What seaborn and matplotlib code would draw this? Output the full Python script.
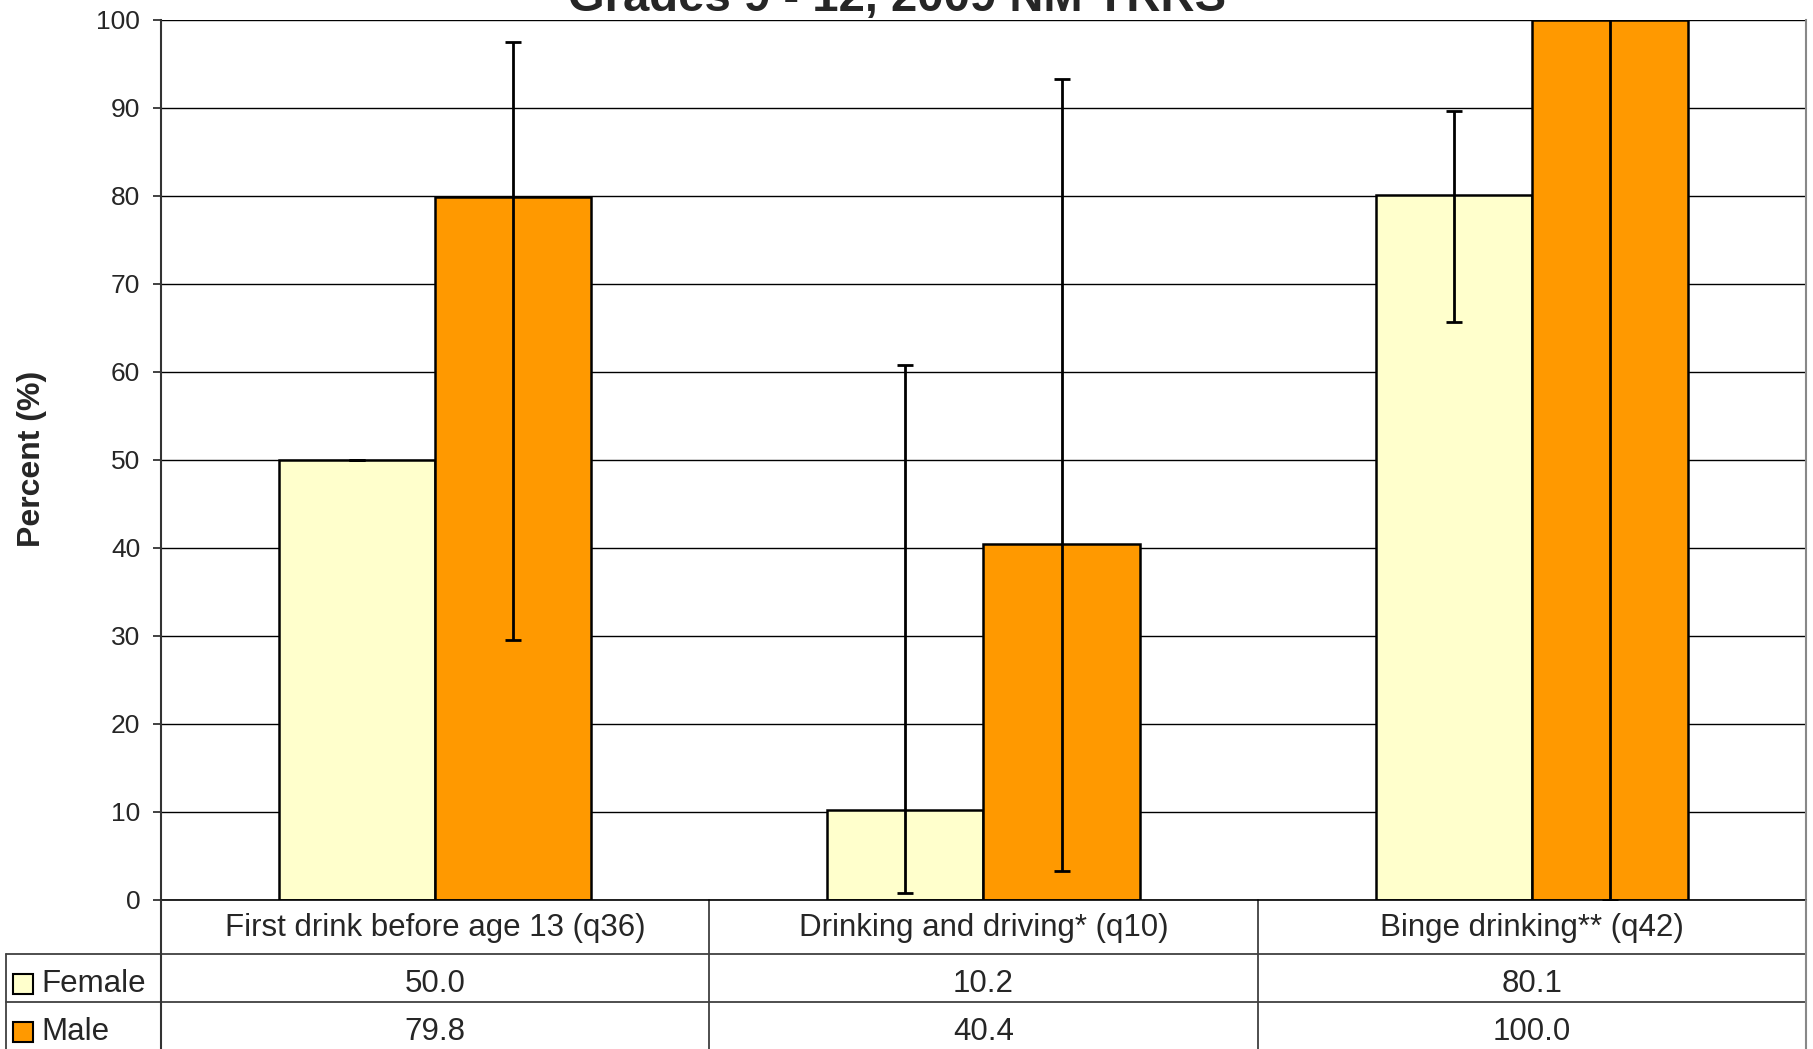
import numpy as np, pandas as pd
import matplotlib
matplotlib.use("Agg")
import matplotlib.pyplot as plt
import seaborn as sns
from matplotlib.lines import Line2D
from matplotlib.patches import Rectangle

# data
categories = ["First drink before age 13 (q36)", "Drinking and driving* (q10)", "Binge drinking** (q42)"]
sexes = ["Female", "Male"]
female = [50.0, 10.2, 80.1]
male = [79.8, 40.4, 100.0]
female_lo = [50.0, 0.8, 65.6]
female_hi = [50.0, 60.7, 89.6]
male_lo = [29.5, 3.2, 0.0]
male_hi = [97.4, 93.3, 100.7]
colors = ["#FFFFCC", "#FF9900"]
title = "Grades 9 - 12, 2009 NM YRRS"

W, H = 1813, 1049

def fx(x):
   return x / W

def fy(y):
   return 1 - y / H

if __name__ == "__main__":
   sns.set_theme(style="white")
   plt.rcParams['font.family'] = ['Liberation Sans', 'DejaVu Sans']

   df = pd.DataFrame({
      "question": categories * 2,
      "sex": [sexes[0]] * 3 + [sexes[1]] * 3,
      "percent": female + male,
   })

   fig = plt.figure(figsize=(W / 100, H / 100), dpi=100)
   ax_l, ax_r, ax_t, ax_b = 161, 1806, 19.6, 899.6
   ax = fig.add_axes([fx(ax_l), fy(ax_b), (ax_r - ax_l) / W, (ax_b - ax_t) / H])

   sns.barplot(data=df, x="question", y="percent", hue="sex", palette=colors,
               width=0.57, edgecolor="black", linewidth=1.8, saturation=1,
               errorbar=None, legend=False, ax=ax, zorder=2)

   # error bars (confidence intervals)
   for cont, vals, lo, hi in zip(ax.containers, [female, male], [female_lo, male_lo], [female_hi, male_hi]):
      xs = [p.get_x() + p.get_width() / 2 for p in cont]
      v = np.array(vals)
      yerr = np.vstack([v - np.array(lo), np.array(hi) - v])
      ax.errorbar(xs, v, yerr=yerr, fmt="none", ecolor="black", elinewidth=2,
                  capsize=6, capthick=2, zorder=3)

   ax.set_ylim(0, 100)
   ax.set_xlim(-0.5, 2.5)
   ax.set_yticks(np.arange(0, 101, 10))
   ax.yaxis.grid(True, color="black", linewidth=1)
   ax.set_axisbelow(True)
   ax.tick_params(axis="y", left=True, length=6, width=1.3, color="#333333",
                  labelsize=19, pad=9)
   ax.tick_params(axis="x", bottom=False, length=0, labelsize=22.5, pad=10)
   ax.set_xlabel("")
   ax.set_ylabel("")
   ax.spines["top"].set_visible(False)
   ax.spines["left"].set_color("#333333")
   ax.spines["left"].set_linewidth(1.5)
   ax.spines["bottom"].set_color("black")
   ax.spines["bottom"].set_linewidth(1.2)
   ax.spines["right"].set_color("#888888")
   ax.spines["right"].set_linewidth(1.5)

   fig.text(fx(897), fy(11), title, ha="center", va="baseline",
            fontsize=34, fontweight="bold")
   fig.text(fx(32), fy(459), "Percent (%)", rotation=90, ha="center", va="center",
            fontsize=23, fontweight="bold")

   # data table below the chart
   line_c = "#404040"
   for yy in [954, 1002]:
      fig.add_artist(Line2D([fx(6), fx(ax_r)], [fy(yy), fy(yy)], color=line_c, lw=1.3))
   fig.add_artist(Line2D([fx(6), fx(6)], [fy(954), 0], color=line_c, lw=1.3))
   fig.add_artist(Line2D([fx(ax_l), fx(ax_l)], [fy(ax_b), 0], color="#333333", lw=1.5))
   fig.add_artist(Line2D([fx(ax_r), fx(ax_r)], [fy(ax_b), 0], color="#888888", lw=1.5))
   trans = ax.get_xaxis_transform()
   ax_h = ax_b - ax_t
   for xb in [0.5, 1.5]:
      ax.add_line(Line2D([xb, xb], [0, -(H - ax_b) / ax_h], transform=trans,
                         color=line_c, lw=1.3, clip_on=False))

   row_y = [984, 1032]
   for k, (lab, vals) in enumerate(zip(sexes, [female, male])):
      fig.add_artist(Rectangle((fx(13), fy(row_y[k] + 10)), 20 / W, 20 / H,
                               facecolor=colors[k], edgecolor="black", lw=1.5))
      fig.text(fx(41), fy(row_y[k]), lab, ha="left", va="center", fontsize=22.5)
      for i, v in enumerate(vals):
         ax.text(i, -(row_y[k] - ax_b) / ax_h, f"{v:.1f}", transform=trans,
                 ha="center", va="center", fontsize=22.5, clip_on=False)

   fig.savefig("out.png", dpi=100)
